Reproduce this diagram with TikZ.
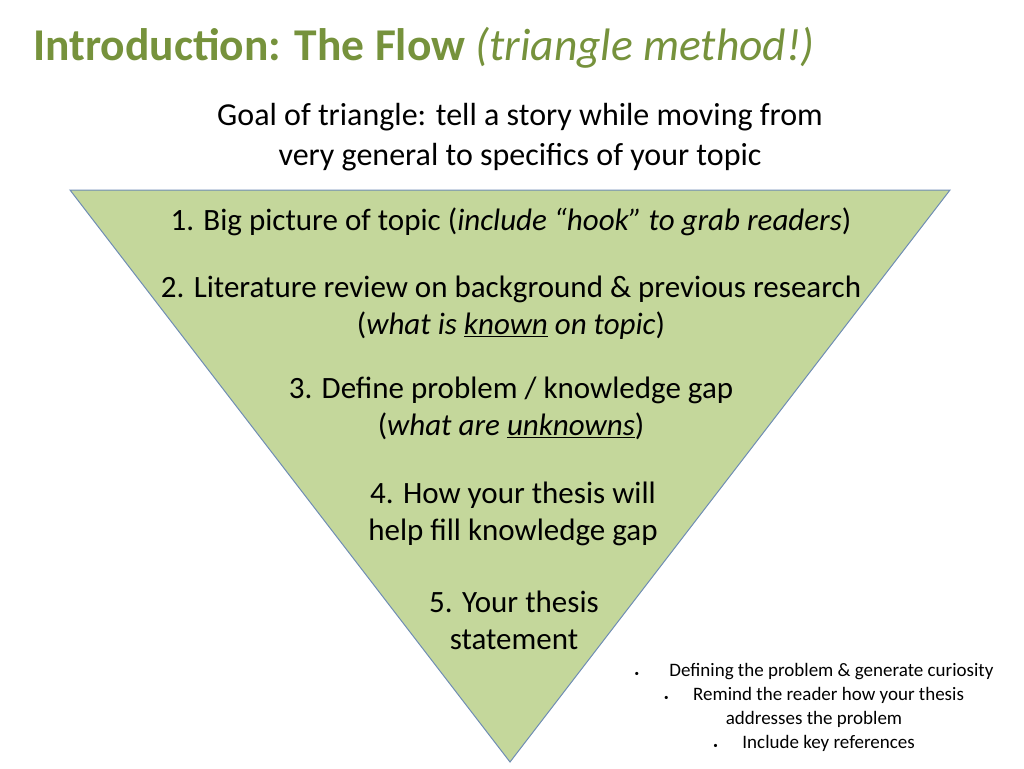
\documentclass[tikz,border=0pt]{standalone}
\usepackage{fontspec}
\setmainfont{Carlito}
\definecolor{titleGreen}{RGB}{118,146,60}
\definecolor{triFill}{RGB}{196,215,155}
\definecolor{triLine}{RGB}{110,140,180}
\begin{document}
\begin{tikzpicture}[%
  x=1pt,y=-1pt,%
  textStyle/.style={align=center,inner sep=0pt,font=\fontsize{31}{37}\selectfont},%
  noteStyle/.style={align=center,inner sep=0pt,font=\fontsize{19}{24}\selectfont}%
]
%
\useasboundingbox (0,0) rectangle (1024,768);
%
\coordinate (topLeft) at (70,190);
\coordinate (topRight) at (950,190);
\coordinate (tip) at (510,762);
%
% The title.
\node[anchor=west,inner sep=0pt,text=titleGreen,font=\fontsize{45.5}{50}\selectfont]
  (title) at (33,48) {\textbf{Introduction: The Flow} \textit{(triangle method!)}};
\node[textStyle,font=\fontsize{32}{40}\selectfont] (goal) at (520,137) {Goal of triangle: tell a story while moving from\\very general to specifics of your topic};
%
% The triangle.
\draw[triLine,fill=triFill,line width=1pt] (topLeft) -- (topRight) -- (tip) -- cycle;
%
% The steps.
\node[textStyle] (stepOne) at (511,222) {1. Big picture of topic (\textit{include “hook” to grab readers})};
\node[textStyle] (stepTwo) at (511,308) {2. Literature review on background \& previous research\\(\textit{what is \underline{known} on topic})};
\node[textStyle] (stepThree) at (511,408) {3. Define problem / knowledge gap\\(\textit{what are \underline{unknowns}})};
\node[textStyle] (stepFour) at (513,514) {4. How your thesis will\\help fill knowledge gap};
\node[textStyle] (stepFive) at (514,620) {5. Your thesis\\statement};
%
% Notes beside the tip.
\node[noteStyle] (notes) at (814,707) {{\small•}\hspace{1.6em}Defining the problem \& generate curiosity\\
  {\small•}\hspace{1.3em}Remind the reader how your thesis\\addresses the problem\\
  {\small•}\hspace{1.3em}Include key references};
\end{tikzpicture}
\end{document}
